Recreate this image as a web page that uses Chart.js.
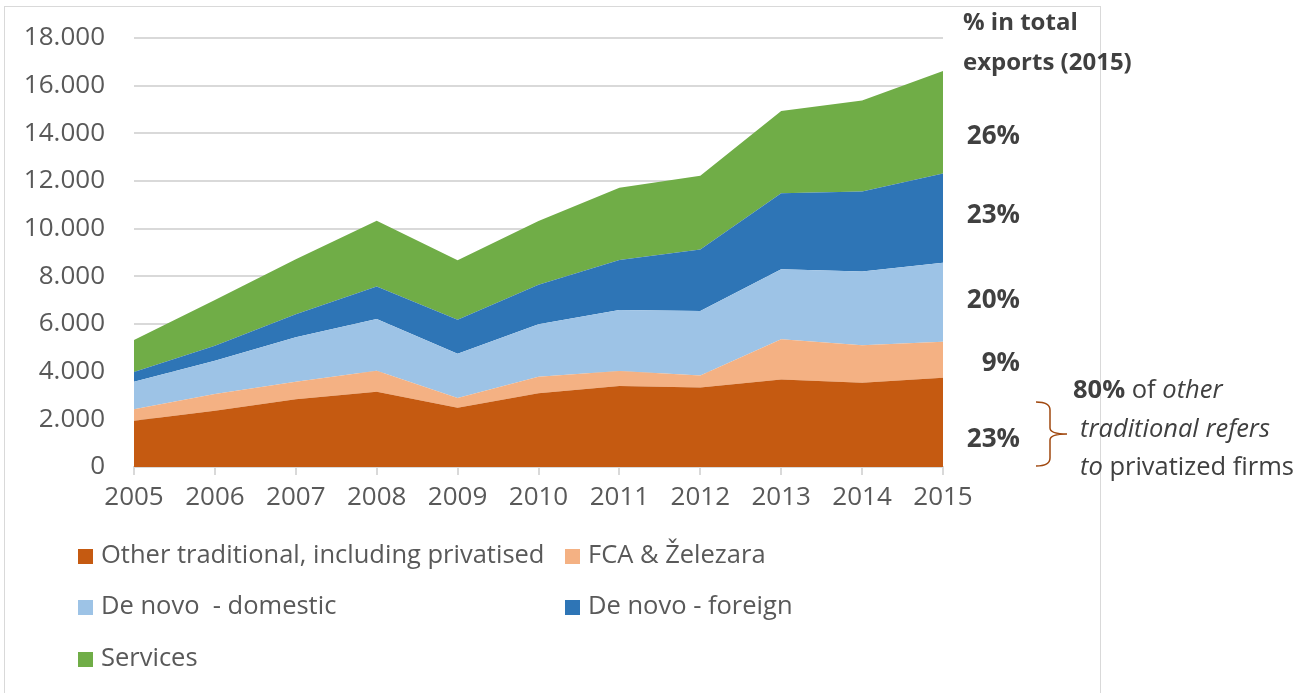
<!DOCTYPE html>
<html>
<head>
<meta charset="utf-8">
<script src="https://cdn.jsdelivr.net/npm/chart.js@4"></script>
<style>
  body { margin: 0; background: #fff; font-family: "Open Sans", sans-serif; }
  #wrap { position: relative; width: 1312px; height: 693px; overflow: hidden; }
  #frame { position: absolute; left: 4px; top: 6px; width: 1095px; height: 700px; border: 1px solid #d9d9d9; }
  #chart { position: absolute; left: 0; top: 0; }
  .note { position: absolute; color: #404040; font-size: 25.5px; white-space: nowrap; }
  .b { font-weight: bold; }
  .head { position: absolute; color: #404040; font-size: 24px; font-weight: bold; white-space: nowrap; }
  .pct { position: absolute; color: #404040; font-weight: bold; font-size: 26px; text-align: right; width: 70px; }
  #legend { position: absolute; left: 78px; top: 536px; color: #595959; font-size: 25.5px; }
  .item { position: absolute; white-space: pre; height: 34px; line-height: 34px; }
  .sw { display: inline-block; width: 15px; height: 15px; margin-right: 8px; vertical-align: -1px; }
</style>
</head>
<body>
<div id="wrap">
  <div id="frame"></div>
  <canvas id="chart" width="1312" height="520"></canvas>

  <div class="head" style="left:963px; top:4px;">% in total</div>
  <div class="head" style="left:963px; top:44px;">exports (2015)</div>
  <div class="pct" style="left:950px; top:116px;">26%</div>
  <div class="pct" style="left:950px; top:195px;">23%</div>
  <div class="pct" style="left:950px; top:280px;">20%</div>
  <div class="pct" style="left:950px; top:343px;">9%</div>
  <div class="pct" style="left:950px; top:419px;">23%</div>

  <svg style="position:absolute;left:0;top:0" width="1312" height="693">
    <path d="M1036 402 Q1050 402 1050 410 L1050 428 Q1050 434 1067 434 Q1050 434 1050 440 L1050 458 Q1050 466 1036 466"
          fill="none" stroke="#a0480f" stroke-width="1.5"/>
  </svg>
  <div class="note" style="left:1073px; top:371px;"><span class="b">80%</span> of <i>other</i></div>
  <div class="note" style="left:1080px; top:410px;"><i>traditional refers</i></div>
  <div class="note" style="left:1080px; top:448px;"><i>to</i> privatized firms</div>

  <div id="legend"></div>
</div>
<script>
const years = ['2005', '2006', '2007', '2008', '2009', '2010', '2011', '2012', '2013', '2014', '2015'];

const otherTraditional = [1940, 2360, 2840, 3160, 2490, 3090, 3400, 3340, 3670, 3540, 3750];
const fcaZelezara = [480, 700, 740, 880, 410, 700, 630, 500, 1690, 1570, 1510];
const deNovoDomestic = [1160, 1400, 1860, 2170, 1850, 2200, 2560, 2710, 2940, 3090, 3310];
const deNovoForeign = [410, 630, 970, 1360, 1430, 1660, 2100, 2580, 3190, 3360, 3740];
const services = [1340, 1920, 2310, 2760, 2490, 2670, 3030, 3090, 3450, 3820, 4310];

const seriesNames = ['Other traditional, including privatised', 'FCA & Železara', 'De novo  - domestic', 'De novo - foreign', 'Services'];
const seriesColors = ['#c55a11', '#f4b183', '#9dc3e6', '#2e75b6', '#70ad47'];
const seriesData = [otherTraditional, fcaZelezara, deNovoDomestic, deNovoForeign, services];

const yTicks = [0, 2000, 4000, 6000, 8000, 10000, 12000, 14000, 16000, 18000];

function formatTick(v) {
    return v.toLocaleString('de-DE');
}

const datasets = seriesData.map((d, i) => ({
    label: seriesNames[i],
    data: d,
    backgroundColor: seriesColors[i],
    borderColor: seriesColors[i],
    borderWidth: 0,
    pointRadius: 0,
    tension: 0,
    fill: i === 0 ? 'origin' : '-1'
}));

new Chart(document.getElementById('chart').getContext('2d'), {
    type: 'line',
    data: { labels: years, datasets },
    options: {
        responsive: false,
        animation: false,
        layout: { padding: { left: 0, right: 369, top: 38, bottom: 0 } },
        plugins: { legend: { display: false }, tooltip: { enabled: false } },
        scales: {
            x: {
                offset: false,
                grid: { drawOnChartArea: false, color: '#d9d9d9', lineWidth: 2, tickLength: 8 },
                border: { color: '#d9d9d9', width: 2 },
                ticks: { color: '#595959', font: { family: 'Open Sans', size: 26 }, padding: 7, maxRotation: 0 },
                afterFit: s => { s.height = 53; }
            },
            y: {
                stacked: true,
                min: 0,
                max: 18000,
                afterBuildTicks: s => { s.ticks = yTicks.map(v => ({ value: v })); },
                grid: { color: '#d9d9d9', lineWidth: 2, drawTicks: false },
                border: { display: false },
                ticks: {
                    color: '#595959',
                    font: { family: 'Open Sans', size: 26 },
                    padding: 29,
                    callback: v => formatTick(v)
                },
                // tick padding would otherwise push the plot top down
                afterFit: s => { s.width = 134; s.paddingTop = 0; s.paddingBottom = 0; }
            }
        }
    }
});

// legend in two columns like the original
const legendEl = document.getElementById('legend');
const legendPos = [[0, 0], [487, 0], [0, 51], [487, 51], [0, 103]];
seriesNames.forEach((name, i) => {
    const it = document.createElement('div');
    it.className = 'item';
    it.style.left = legendPos[i][0] + 'px';
    it.style.top = legendPos[i][1] + 'px';
    it.innerHTML = '<span class="sw" style="background:' + seriesColors[i] + '"></span>' + name;
    legendEl.appendChild(it);
});
</script>
</body>
</html>
